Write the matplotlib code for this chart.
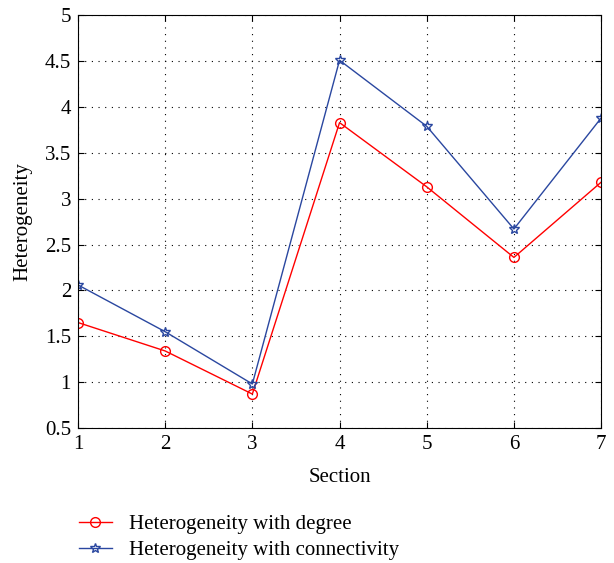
import numpy as np
import matplotlib.pyplot as plt

# Datos
section = [1, 2, 3, 4, 5, 6, 7]
het_degree = [1.65, 1.34, 0.87, 3.83, 3.13, 2.36, 3.18]
het_connect = [2.06, 1.55, 0.98, 4.51, 3.79, 2.67, 3.88]

plt.rcParams['font.family'] = ['Liberation Serif', 'DejaVu Serif']

fig = plt.figure(figsize=(6.14, 5.63), dpi=100)
ax = fig.add_axes([0.127, 0.2398, 0.852, 0.733])

ax.plot(section, het_degree, color='red', marker='o', markersize=7,
        markerfacecolor='none', linewidth=1, label='Heterogeneity with degree')
ax.plot(section, het_connect, color='#2a47a0', marker='*', markersize=7,
        markerfacecolor='none', linewidth=1, label='Heterogeneity with connectivity')

ax.set_xlim(1, 7)
ax.set_ylim(0.5, 5)
ax.set_xticks(section)
ax.set_yticks(np.arange(0.5, 5.01, 0.5))
ax.set_yticklabels(['0.5', '1', '1.5', '2', '2.5', '3', '3.5', '4', '4.5', '5'])
ax.tick_params(direction='in', labelsize=15, length=4, top=True, right=True, pad=5)
ax.grid(True, linestyle=(0, (1, 5)), color='black', linewidth=0.8)
ax.set_xlabel('Section', fontsize=15, labelpad=10)
ax.set_ylabel('Heterogeneity', fontsize=15, labelpad=9)

ax.legend(loc='upper left', bbox_to_anchor=(0.128, 0.086), bbox_transform=fig.transFigure,
          frameon=False, fontsize=15, handlelength=1.6, handletextpad=0.8,
          labelspacing=0.3, borderaxespad=0, borderpad=0)

plt.savefig('out.png', dpi=100)
